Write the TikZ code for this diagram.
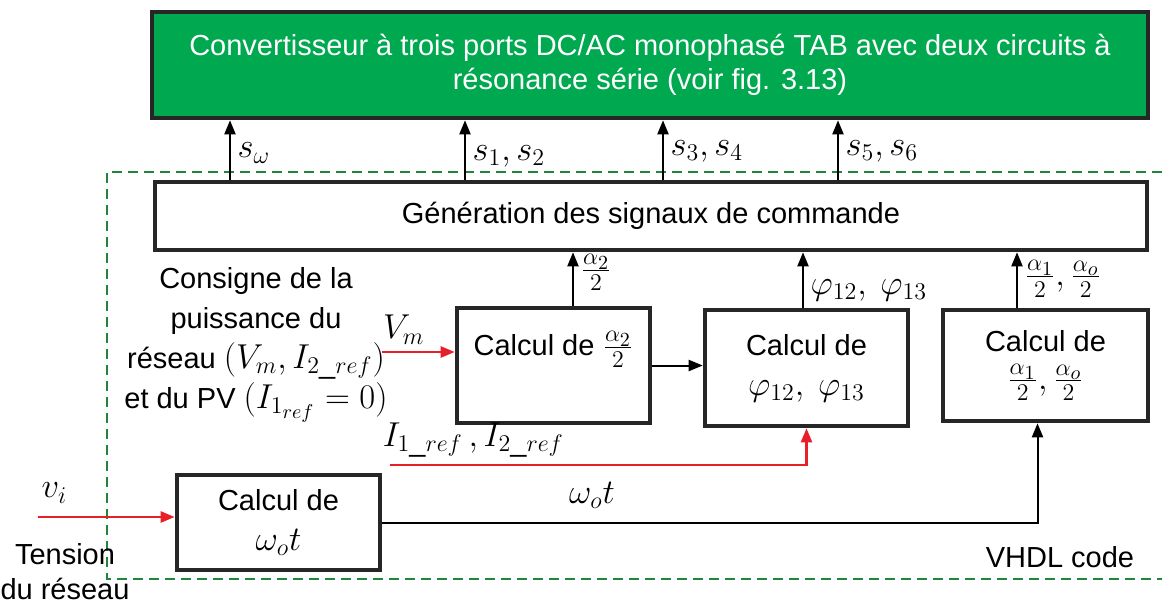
\documentclass[tikz,border=0pt]{standalone}
\usepackage{fontspec}
\setmainfont{Liberation Sans}
\usetikzlibrary{arrows.meta,positioning}
\DeclareMathSizes{14.5}{16}{12.5}{10}
\definecolor{tabgreen}{RGB}{0,168,80}
\definecolor{vhdlgreen}{RGB}{30,135,60}
\definecolor{sigred}{RGB}{232,30,40}

\begin{document}
\begin{tikzpicture}[x=0.5pt, y=-0.5pt,
        font=\fontsize{14.5}{19}\selectfont,
        blk/.style={draw=black!85, line width=2.3pt, inner sep=2pt, align=center},
        sig/.style={line width=1pt, -{Triangle[length=7pt,width=5.5pt]}},
        refsig/.style={sig, draw=sigred, line width=1.2pt},
        txt/.style={align=center}]
        \useasboundingbox (0,0) rectangle (1162,606);

        % VHDL frame (open on the right)
        \draw[vhdlgreen, line width=1.3pt, dash pattern=on 5pt off 3pt]
            (1162,172) -- (107,172) -- (107,579) -- (1162,579);

        % Converter and command blocks
        \node[blk, fill=tabgreen, text=white, minimum width=498pt, minimum height=53pt,
            font=\fontsize{14.5}{17}\selectfont] (conv) at (650,65)
            {Convertisseur à trois ports DC/AC monophasé TAB avec deux circuits à\\résonance série (voir fig. 3.13)};
        \node[blk, minimum width=496pt, minimum height=34pt] (gen) at (651,216)
            {Génération des signaux de commande};
        \node[blk, minimum width=96.5pt, minimum height=57.5pt, text depth=22pt] (alpha2) at (553.5,365.5)
            {Calcul de $\frac{\alpha_2}{2}$};
        \node[blk, minimum width=101.5pt, minimum height=58pt, font=\fontsize{14.5}{20}\selectfont] (phi) at (806.5,368)
            {Calcul de\\$\varphi_{12},\ \varphi_{13}$};
        \node[blk, minimum width=102.5pt, minimum height=55.5pt] (alpha1) at (1045.5,365.5)
            {Calcul de\\$\frac{\alpha_1}{2},\frac{\alpha_o}{2}$};
        \node[blk, minimum width=101.5pt, minimum height=47.5pt, font=\fontsize{14.5}{20}\selectfont] (omega) at (278.5,522.5)
            {Calcul de\\$\omega_o t$};

        % Free texts
        \node[txt, font=\fontsize{14.5}{20}\selectfont] (consigne) at (256,345)
            {Consigne de la\\puissance du\\réseau $(V_m, I_{2\_ref})$\\et du PV $(I_{1_{ref}} = 0)$};
        \node[txt, font=\fontsize{14.5}{17.5}\selectfont] (tension) at (65,572) {Tension\\du réseau};
        \node[txt] (vhdl) at (1060,557) {VHDL code};

        % Switching signals to the converter
        \draw[sig] (gen.north -| 230,0) -- (conv.south -| 230,0) node[right, pos=0.45] (lsw) {$s_\omega$};
        \draw[sig] (gen.north -| 465,0) -- (conv.south -| 465,0) node[right, pos=0.4] (ls12) {$s_1, s_2$};
        \draw[sig] (gen.north -| 663,0) -- (conv.south -| 663,0) node[right, pos=0.48] (ls34) {$s_3, s_4$};
        \draw[sig] (gen.north -| 838,0) -- (conv.south -| 838,0) node[right, pos=0.48] (ls56) {$s_5, s_6$};

        % Computed angles to the generator
        \draw[sig] (alpha2.north -| 573,0) -- (gen.south -| 573,0) node[right, pos=0.62] (la2) {$\frac{\alpha_2}{2}$};
        \draw[sig] (phi.north -| 803,0) -- (gen.south -| 803,0) node[right, pos=0.32] (lphi) {$\varphi_{12},\ \varphi_{13}$};
        \draw[sig] (alpha1.north -| 1017,0) -- (gen.south -| 1017,0) node[right, pos=0.52] (la1) {$\frac{\alpha_1}{2},\frac{\alpha_o}{2}$};
        \draw[sig] (alpha2.east) -- (alpha2.east -| phi.west);

        % Inputs
        \coordinate (vmin) at (382,352);
        \coordinate (irefin) at (390,465);
        \coordinate (viin) at (38,517);
        \draw[refsig] (vmin) -- (vmin -| alpha2.west) node[above, pos=0.3] (lvm) {$V_m$};
        \draw[refsig] (irefin) -| (phi.south) node[above, pos=0.1] (liref) {$I_{1\_ref}\,,I_{2\_ref}$};
        \draw[refsig] (viin) -- (viin -| omega.west) node[above=3pt, pos=0.12] (lvi) {$v_i$};
        \draw[sig] (omega.east) -| ([xshift=-4pt]alpha1.south) node[above=3pt, pos=0.16] (lwt) {$\omega_o t$};
\end{tikzpicture}
\end{document}
